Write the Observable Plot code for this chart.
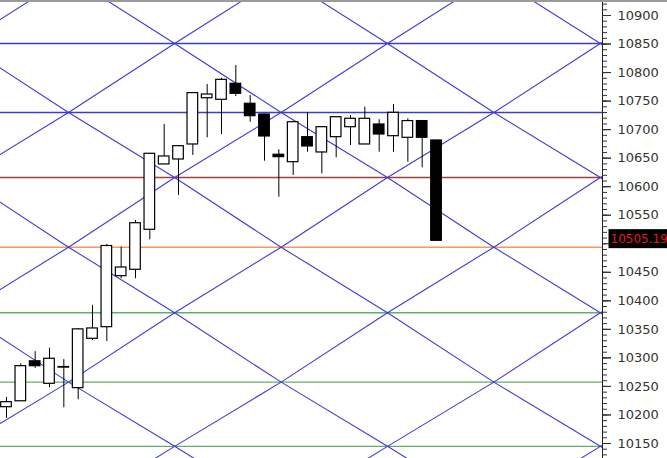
<!DOCTYPE html>
<html><head><meta charset="utf-8">
<script src="https://cdn.jsdelivr.net/npm/d3@7"></script>
<script src="https://cdn.jsdelivr.net/npm/@observablehq/plot@0.6"></script>
<style>
html,body{margin:0;padding:0;background:#fff;}
#chart{position:relative;width:667px;height:458px;overflow:hidden;background:#fff;}
#topline{position:absolute;left:0;top:0;width:667px;height:2px;background:#9a9a9a;}
</style></head><body><div id="chart"><div id="topline"></div></div>
<script>
// Candle values (bar index = position in arrays)
const opens  = [10213.6,10224,10294,10254.6,10284,10247,10333.5,10353.8,10443.2,10454.4,10524.5,10639,10647.7,10674,10755,10752.3,10780.3,10745.3,10726.5,10656,10643,10686.8,10660,10686.8,10704.3,10674,10709,10688.5,10685.7,10715,10681];
const highs  = [10230.7,10289.7,10311,10317,10297,10351,10392,10498.7,10494,10540.8,10658,10709,10671,10765,10779,10790,10812.4,10759.8,10727,10664.7,10714,10729.5,10705,10722,10724.8,10739.4,10717.3,10744,10719,10715,10681];
const lows   = [10194,10224,10281.6,10247.6,10212.6,10226.6,10330.5,10328.8,10438.7,10438.7,10507,10639,10584.6,10654.7,10685.7,10691.5,10758,10713,10644.7,10581.6,10619.7,10660.5,10622.6,10650.7,10672.2,10674,10660.5,10660.5,10643,10633,10505.19];
const closes = [10222.4,10285.5,10285.5,10298.5,10283,10350,10351.6,10496.1,10458.4,10536,10657.7,10653,10671,10764,10761.6,10787.3,10762.8,10723.6,10688,10651.8,10713,10670.5,10704.3,10721.8,10719,10719,10691.5,10729.5,10715,10685.7,10505.19];

// Axis ticks
const yTicks = d3.range(10150, 10901, 50);
const yMinorTicks = d3.range(10130, 10921, 10);

// Horizontal levels
const levelPrices = [10851, 10730, 10616, 10494, 10379, 10257.5, 10145];
const levelColors = ["#3c3cd4", "#3c3cd4", "#a0403a", "#f29a62", "#62b062", "#62b062", "#62b062"];

// Diagonal grid lattice (bar position, price)
const gridX = [-3.07, 4.326, 11.73, 19.16, 26.58, 34.0, 41.43, 48.85];
const gridLevels = [10969, 10851, 10730, 10616, 10494, 10379, 10257.5, 10145, 10030];

const lastPrice = 10505.19;

const xDomain = [-0.4186, 41.58];
const yDomain = [10123.7, 10926.3];
const halfBody = 0.37;

const candles = opens.map((o, i) => ({i, o, h: highs[i], l: lows[i], c: closes[i]}));
const levels = levelPrices.map((p, i) => ({p, color: levelColors[i]}));
const labelTicks = yTicks.filter(v => Math.abs(v - lastPrice) > 20);

const diag = [];
let id = 0;
const nR = gridLevels.length, nK = gridX.length;
for (let c = -(nK - 1); c <= nR - 1; c++) {
  if (Math.abs(c) % 2 !== 1) continue;
  const pts = [];
  for (let k = 0; k < nK; k++) { const r = k + c; if (r >= 0 && r < nR) pts.push({x: gridX[k], y: gridLevels[r], z: id}); }
  if (pts.length >= 2) { diag.push(...pts); id++; }
}
for (let s = 1; s <= nR + nK - 2; s += 2) {
  const pts = [];
  for (let k = 0; k < nK; k++) { const r = s - k; if (r >= 0 && r < nR) pts.push({x: gridX[k], y: gridLevels[r], z: id}); }
  if (pts.length >= 2) { diag.push(...pts); id++; }
}

const chart = Plot.plot({
  width: 667, height: 458,
  marginLeft: 0, marginRight: 65, marginTop: 0, marginBottom: 0,
  style: {fontFamily: "DejaVu Sans", background: "transparent", overflow: "visible"},
  x: {domain: xDomain, axis: null},
  y: {domain: yDomain},
  color: {type: "identity"},
  marks: [
    Plot.ruleY(levels, {y: "p", stroke: "color", strokeWidth: 1.4}),
    Plot.line(diag, {x: "x", y: "y", z: "z", stroke: "#3c3cd4", strokeWidth: 1.1, clip: true}),
    Plot.ruleX(candles, {x: "i", y1: "l", y2: "h", stroke: "black", strokeWidth: 1}),
    Plot.rect(candles, {x1: d => d.i - halfBody, x2: d => d.i + halfBody, y1: "o", y2: "c",
      fill: d => d.c >= d.o ? "white" : "black", stroke: "black", strokeWidth: 1.2}),
    Plot.ruleX([xDomain[1]], {stroke: "#222", strokeWidth: 1}),
    Plot.axisY({anchor: "right", ticks: yMinorTicks, tickSize: 4, tickFormat: () => "", label: null, stroke: "#333"}),
    Plot.axisY({anchor: "right", ticks: yTicks, tickSize: 8, tickFormat: () => "", label: null, stroke: "#333"}),
    Plot.axisY({anchor: "right", ticks: labelTicks, tickSize: 8, tickPadding: 7, tickFormat: d3.format("d"),
      label: null, fontSize: 13, fill: "#333", stroke: "#333"}),
    Plot.text([lastPrice], {x: xDomain[1], y: d => d, dx: 8, dy: -2, text: d => d.toFixed(2),
      textAnchor: "start", fill: "#e41a1a", fontSize: 12})
  ]
});
document.getElementById("chart").append(chart);

// black label box behind the last-price text
const label = lastPrice.toFixed(2);
const t = [...chart.querySelectorAll("text")].find(e => e.textContent === label);
if (t) {
  const bb = t.getBBox();
  const ns = "http://www.w3.org/2000/svg";
  const r = document.createElementNS(ns, "rect");
  const cy = bb.y + bb.height / 2;
  r.setAttribute("x", bb.x - 2);
  r.setAttribute("y", cy - 9.5);
  r.setAttribute("width", bb.width + 20);
  r.setAttribute("height", 19);
  r.setAttribute("fill", "black");
  if (t.getAttribute("transform")) r.setAttribute("transform", t.getAttribute("transform"));
  t.parentNode.insertBefore(r, t);
}
</script></body></html>
